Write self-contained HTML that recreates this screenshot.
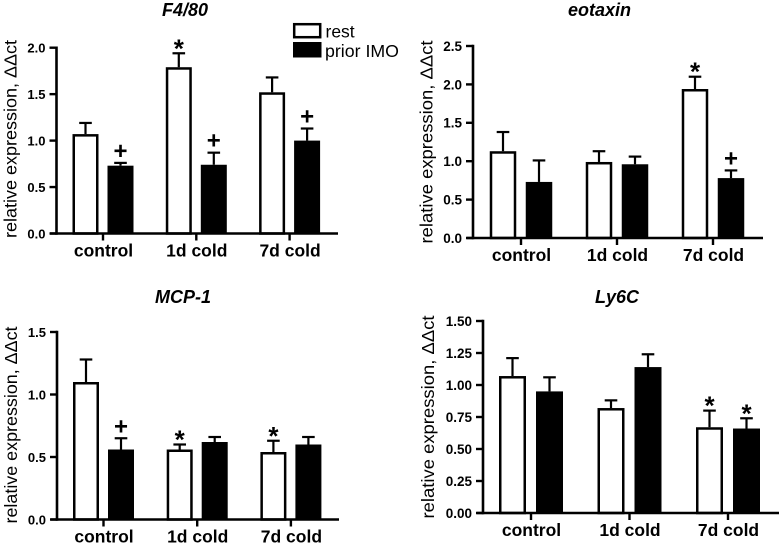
<!DOCTYPE html>
<html>
<head>
<meta charset="utf-8">
<title>Relative expression charts</title>
<style>
html,body{margin:0;padding:0;background:#fff;width:779px;height:549px;overflow:hidden}
svg{display:block}
text{font-family:"Liberation Sans",Arial,sans-serif;fill:#000}
</style>
</head>
<body>
<svg id="figure" xmlns="http://www.w3.org/2000/svg" width="779" height="549" viewBox="0 0 779 549">
  <g>
    <rect x="294.2" y="24.2" width="26" height="13" fill="#fff" stroke="#000" stroke-width="2.5"/>
    <rect x="293" y="42" width="28.5" height="15.5" fill="#000"/>
    <text x="325.5" y="37.5" font-size="17.5">rest</text>
    <text x="325" y="57" font-size="17.5" textLength="74" lengthAdjust="spacingAndGlyphs">prior IMO</text>
  </g>
</svg>
<script>
const categories = ['control', '1d cold', '7d cold'];

const f480Ticks = ['0.0', '0.5', '1.0', '1.5', '2.0'];
const f480Rest = [1.07, 1.79, 1.52];
const f480RestErr = [1.19, 1.94, 1.68];
const f480Imo = [0.73, 0.74, 1.00];
const f480ImoErr = [0.76, 0.87, 1.13];
const f480RestMarks = ['', '*', ''];
const f480ImoMarks = ['+', '+', '+'];

const eotaxinTicks = ['0.0', '0.5', '1.0', '1.5', '2.0', '2.5'];
const eotaxinRest = [1.13, 0.99, 1.94];
const eotaxinRestErr = [1.38, 1.13, 2.10];
const eotaxinImo = [0.73, 0.96, 0.78];
const eotaxinImoErr = [1.01, 1.06, 0.88];
const eotaxinRestMarks = ['', '', '*'];
const eotaxinImoMarks = ['', '', '+'];

const mcpTicks = ['0.0', '0.5', '1.0', '1.5'];
const mcpRest = [1.10, 0.56, 0.54];
const mcpRestErr = [1.28, 0.60, 0.63];
const mcpImo = [0.56, 0.62, 0.60];
const mcpImoErr = [0.65, 0.66, 0.66];
const mcpRestMarks = ['', '*', '*'];
const mcpImoMarks = ['+', '', ''];

const ly6cTicks = ['0.00', '0.25', '0.50', '0.75', '1.00', '1.25', '1.50'];
const ly6cRest = [1.07, 0.82, 0.67];
const ly6cRestErr = [1.21, 0.88, 0.80];
const ly6cImo = [0.95, 1.14, 0.66];
const ly6cImoErr = [1.06, 1.24, 0.74];
const ly6cRestMarks = ['', '', '*'];
const ly6cImoMarks = ['', '', '*'];

const SVG_NS = 'http://www.w3.org/2000/svg';
const svg = document.getElementById('figure');

function make(parent, tag, props, content) {
  const node = document.createElementNS(SVG_NS, tag);
  for (const k in props) node.setAttribute(k, props[k]);
  if (content !== undefined) node.textContent = content;
  parent.appendChild(node);
  return node;
}

function drawPanel(p) {
  const g = make(svg, 'g', {});
  
  

  const maxVal = parseFloat(p.ticks[p.ticks.length - 1]);
  const yScale = v => p.y0 - (v / maxVal) * (p.y0 - p.yTop);
  const xScale = i => p.x0 + i * p.step;

  const title = make(g, 'text', {x: p.titleX, y: p.titleY, 'font-size': 18, 'font-weight': 'bold', 'font-style': 'italic', 'text-anchor': 'middle'}, p.title);
  
  

  const ylab = make(g, 'text', {
    transform: 'translate(' + p.yLabelX + ',' + p.yLabelMid + ') rotate(-90)',
    'font-size': 17.5, 'text-anchor': 'middle', textLength: p.yLabelLen, lengthAdjust: 'spacingAndGlyphs'
  }, 'relative expression, ΔΔct');
  
  

  categories.forEach((cat, i) => {
    const cx = xScale(i);
    [
      {vals: p.rest, errs: p.restErr, marks: p.restMarks, dx: -p.off, white: true, id: 'rest'},
      {vals: p.imo, errs: p.imoErr, marks: p.imoMarks, dx: p.off, white: false, id: 'prior-imo'}
    ].forEach(s => {
      const bx = cx + s.dx;
      const yv = yScale(s.vals[i]);
      const ye = yScale(s.errs[i]);

      const stem = make(g, 'line', {x1: bx, x2: bx, y1: yv, y2: ye, stroke: '#000', 'stroke-width': 2.2});
      
      

      const cap = make(g, 'line', {x1: bx - 6.3, x2: bx + 6.3, y1: ye, y2: ye, stroke: '#000', 'stroke-width': 2.2});
      
      

      const hw = p.barW / 2;
      const bar = s.white
        ? make(g, 'rect', {x: bx - hw + 1.25, y: yv + 1.25, width: p.barW - 2.5, height: p.y0 - yv - 1.25, fill: '#fff', stroke: '#000', 'stroke-width': 2.5})
        : make(g, 'rect', {x: bx - hw, y: yv, width: p.barW, height: p.y0 - yv, fill: '#000'});
      
      

      const m = s.marks[i];
      if (m) {
        const isStar = m === '*';
        const mark = make(g, 'text', {x: bx, y: ye + (isStar ? 4 : -4), 'font-size': isStar ? 26 : 24, 'text-anchor': 'middle', 'font-weight': 'bold'}, m);
        
        
      }
    });

    const tick = make(g, 'line', {x1: cx, x2: cx, y1: p.y0, y2: p.y0 + 7, stroke: '#000', 'stroke-width': 2.4});
    
    

    const label = make(g, 'text', {x: cx + 0.5, y: p.y0 + 23, 'font-size': 17.5, 'font-weight': 'bold', 'text-anchor': 'middle'}, cat);
    
    
  });

  const yAxis = make(g, 'line', {x1: p.axisX, x2: p.axisX, y1: p.yTop - 1.2, y2: p.y0 + 1.2, stroke: '#000', 'stroke-width': 2.6});
  
  

  const xAxis = make(g, 'line', {x1: p.axisX - 6.5, x2: p.xEnd, y1: p.y0, y2: p.y0, stroke: '#000', 'stroke-width': 2.6});
  
  

  p.ticks.forEach(t => {
    const y = yScale(parseFloat(t));
    const tick = make(g, 'line', {x1: p.axisX - 7, x2: p.axisX, y1: y, y2: y, stroke: '#000', 'stroke-width': 2.4});
    
    

    const label = make(g, 'text', {x: p.axisX - 11, y: y + 4.9, 'font-size': p.tickFont, 'font-weight': 'bold', 'text-anchor': 'end'}, t);
    
    
  });
}

drawPanel({key: 'f4-80', title: 'F4/80', titleX: 185, titleY: 16, axisX: 56.5, xEnd: 338, y0: 233.5, yTop: 47.7, tickFont: 13,
  x0: 103, step: 93.3, off: 17.5, barW: 26, yLabelX: 16.5, yLabelMid: 139, yLabelLen: 198,
  ticks: f480Ticks, rest: f480Rest, restErr: f480RestErr, imo: f480Imo, imoErr: f480ImoErr, restMarks: f480RestMarks, imoMarks: f480ImoMarks});

drawPanel({key: 'eotaxin', title: 'eotaxin', titleX: 599.5, titleY: 16, axisX: 473, xEnd: 763, y0: 238, yTop: 46, tickFont: 13.5,
  x0: 521, step: 96, off: 18, barW: 26.5, yLabelX: 432.5, yLabelMid: 142, yLabelLen: 203,
  ticks: eotaxinTicks, rest: eotaxinRest, restErr: eotaxinRestErr, imo: eotaxinImo, imoErr: eotaxinImoErr, restMarks: eotaxinRestMarks, imoMarks: eotaxinImoMarks});

drawPanel({key: 'mcp-1', title: 'MCP-1', titleX: 183, titleY: 303, axisX: 57, xEnd: 339, y0: 519.5, yTop: 332, tickFont: 13,
  x0: 103.5, step: 93.7, off: 17.5, barW: 26, yLabelX: 17, yLabelMid: 425, yLabelLen: 197,
  ticks: mcpTicks, rest: mcpRest, restErr: mcpRestErr, imo: mcpImo, imoErr: mcpImoErr, restMarks: mcpRestMarks, imoMarks: mcpImoMarks});

drawPanel({key: 'ly6c', title: 'Ly6C', titleX: 617, titleY: 303, axisX: 483, xEnd: 779, y0: 513, yTop: 321, tickFont: 13.5,
  x0: 531, step: 98.5, off: 18.5, barW: 27, yLabelX: 434, yLabelMid: 417, yLabelLen: 203,
  ticks: ly6cTicks, rest: ly6cRest, restErr: ly6cRestErr, imo: ly6cImo, imoErr: ly6cImoErr, restMarks: ly6cRestMarks, imoMarks: ly6cImoMarks});
</script>
</body>
</html>
